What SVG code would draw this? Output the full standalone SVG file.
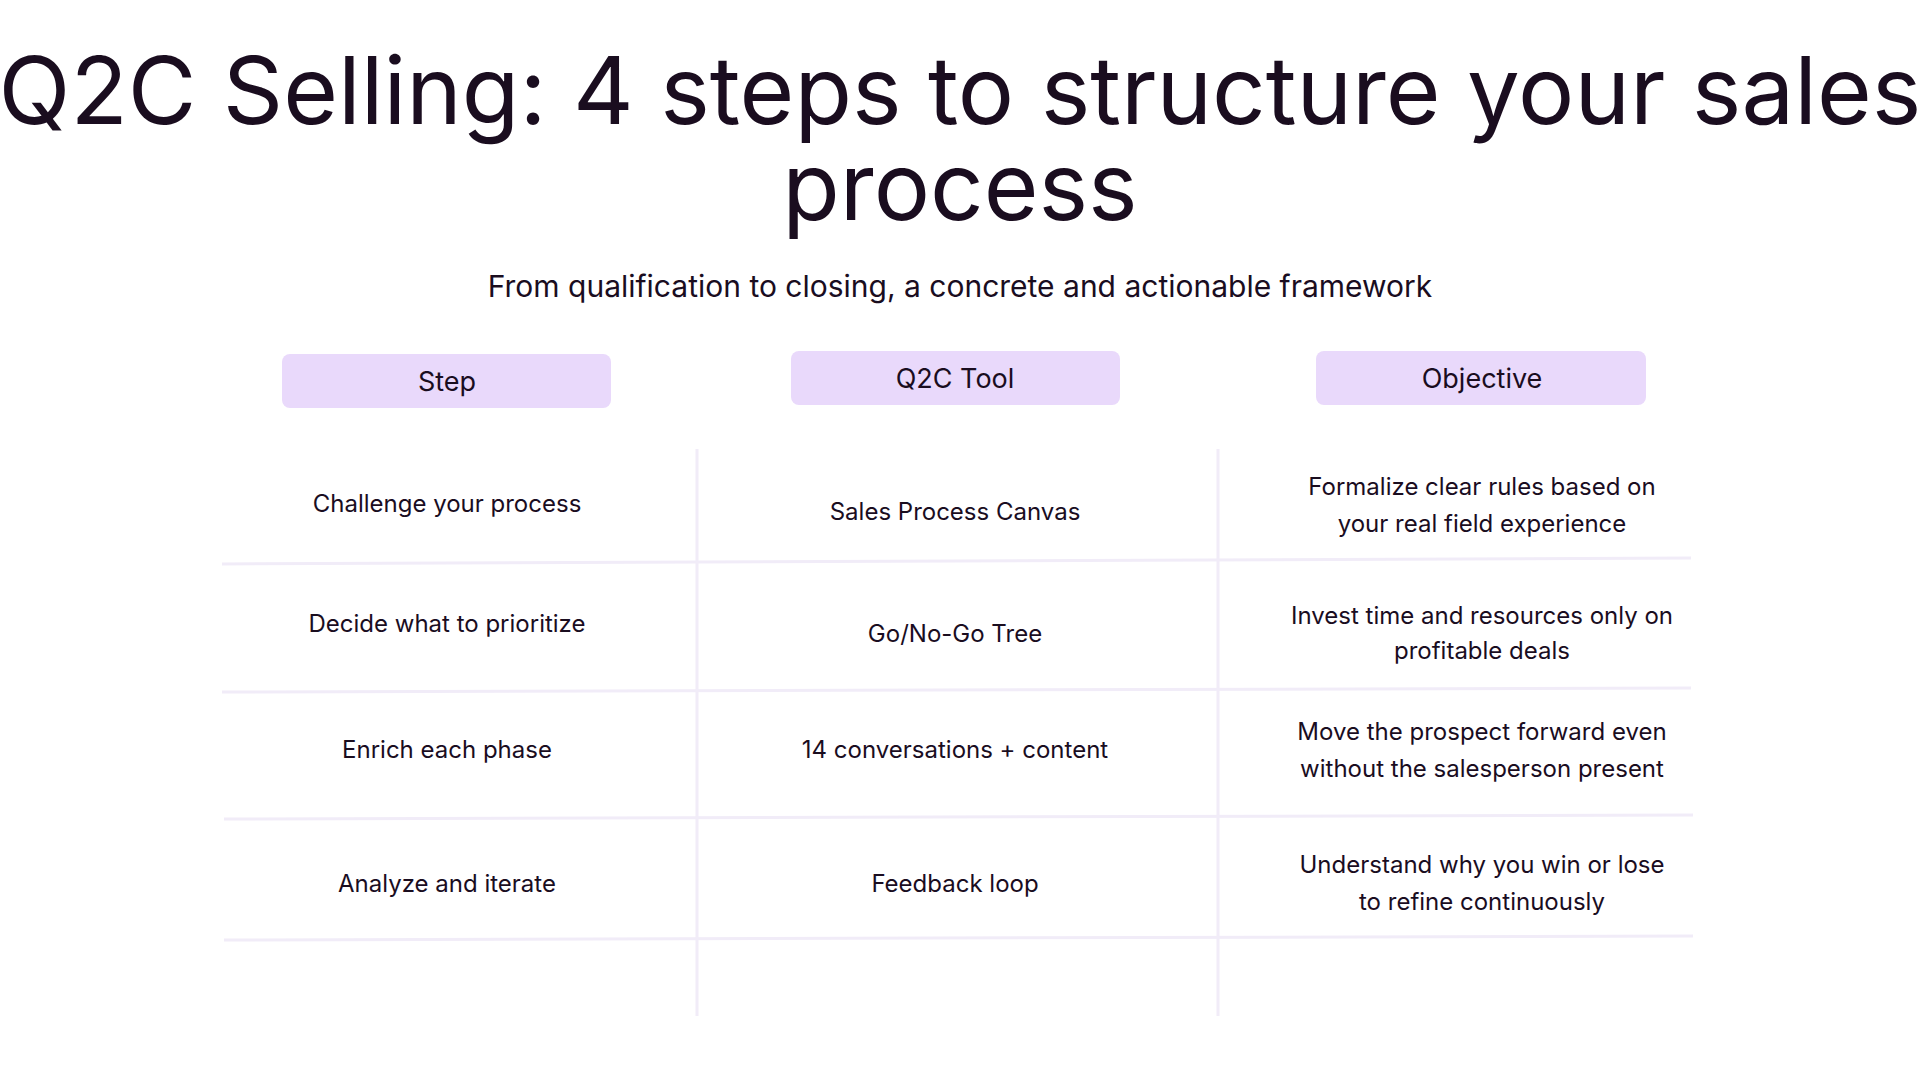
<svg xmlns="http://www.w3.org/2000/svg" width="1920" height="1080" viewBox="0 0 1920 1080">
<style>
text{font-family:Inter,"Noto Sans",sans-serif;fill:#1a0d1f;text-anchor:middle;dominant-baseline:central}
.t{font-size:94px}
.s{font-size:30px}
.h{font-size:27px}
.c{font-size:24px}
.pill{fill:#e9d9fb}
.g{stroke:#f1ecf8;stroke-width:3}
</style>
<rect width="1920" height="1080" fill="#fff"/>
<text class="t" x="960" y="90">Q2C Selling: 4 steps to structure your sales</text>
<text class="t" x="960" y="186">process</text>
<text class="s" x="960" y="286">From qualification to closing, a concrete and actionable framework</text>
<g id="connectors">
<line class="g" x1="697" y1="449" x2="697" y2="1016"/>
<line class="g" x1="1218" y1="449" x2="1218" y2="1016"/>
<line class="g" x1="222" y1="564" x2="1691" y2="558"/>
<line class="g" x1="222" y1="692" x2="1691" y2="688"/>
<line class="g" x1="224" y1="819" x2="1693" y2="815"/>
<line class="g" x1="224" y1="940" x2="1693" y2="936"/>
</g>
<g id="h-step"><rect class="pill" x="282" y="354" width="329" height="54" rx="8"/><text class="h" x="447" y="381">Step</text></g>
<g id="h-tool"><rect class="pill" x="791" y="351" width="329" height="54" rx="8"/><text class="h" x="955" y="378">Q2C Tool</text></g>
<g id="h-obj"><rect class="pill" x="1316" y="351" width="330" height="54" rx="8"/><text class="h" x="1482" y="378">Objective</text></g>
<g id="r1"><text class="c" x="447" y="503">Challenge your process</text><text class="c" x="955" y="511">Sales Process Canvas</text><text class="c" x="1482" y="486">Formalize clear rules based on</text><text class="c" x="1482" y="523">your real field experience</text></g>
<g id="r2"><text class="c" x="447" y="623">Decide what to prioritize</text><text class="c" x="955" y="633">Go/No-Go Tree</text><text class="c" x="1482" y="615">Invest time and resources only on</text><text class="c" x="1482" y="650">profitable deals</text></g>
<g id="r3"><text class="c" x="447" y="749">Enrich each phase</text><text class="c" x="955" y="749">14 conversations + content</text><text class="c" x="1482" y="731">Move the prospect forward even</text><text class="c" x="1482" y="768">without the salesperson present</text></g>
<g id="r4"><text class="c" x="447" y="883">Analyze and iterate</text><text class="c" x="955" y="883">Feedback loop</text><text class="c" x="1482" y="864">Understand why you win or lose</text><text class="c" x="1482" y="901">to refine continuously</text></g>
</svg>
